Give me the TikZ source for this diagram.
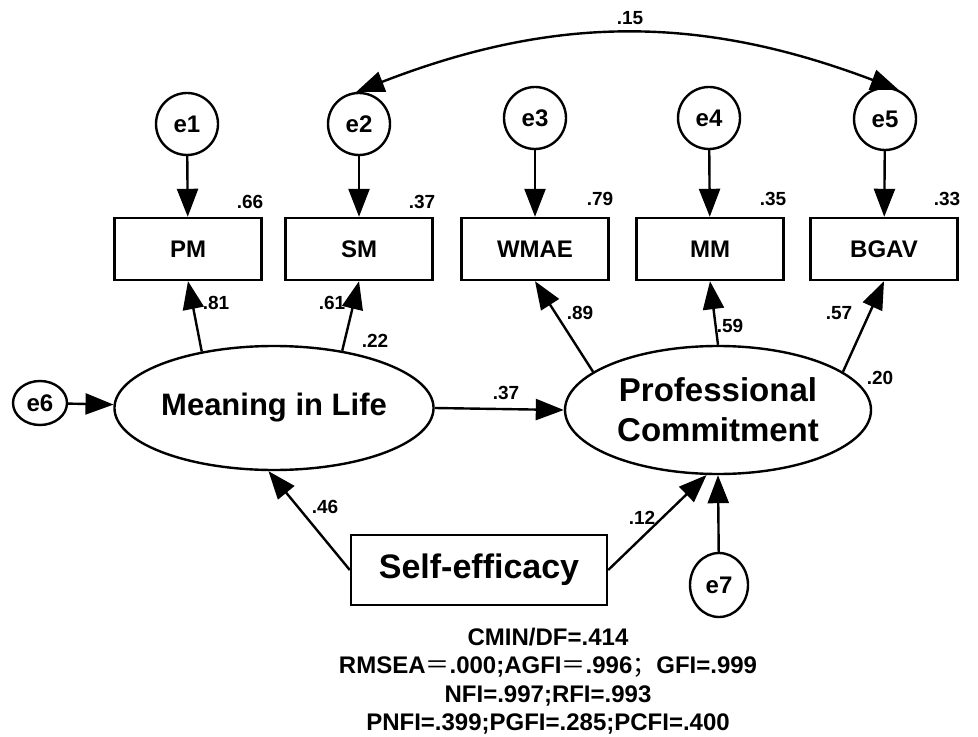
\documentclass[tikz,border=0pt]{standalone}
\usepackage{amsmath, amssymb}
\usepackage{xcolor}
\usepackage{fontspec}
\setmainfont{Liberation Sans}
\newfontfamily\cjk{Noto Sans CJK SC}
\usepackage{tikz}
\usetikzlibrary{arrows.meta, shapes.geometric}

\tikzset{
  err/.style={draw, circle, line width=1.2pt, minimum size=31pt, inner sep=0pt, font=\fontsize{12}{14}\selectfont\bfseries},
  errsmall/.style={draw, ellipse, line width=1.2pt, inner sep=0pt, font=\fontsize{12}{14}\selectfont\bfseries},
  obs/.style={draw, rectangle, line width=1.2pt, minimum width=73.5pt, minimum height=31pt, inner sep=0pt, font=\fontsize{12}{14}\selectfont\bfseries},
  lat/.style={draw, ellipse, line width=1.2pt, inner sep=0pt},
  coef/.style={inner sep=0pt, font=\fontsize{9.5}{11}\selectfont\bfseries},
  fit/.style={inner sep=0pt, anchor=base, font=\fontsize{12}{14}\selectfont\bfseries},
  arr/.style={line width=1.2pt, -{Triangle[length=14pt, width=10.5pt]}},
  dbl/.style={line width=1.2pt, {Triangle[length=14pt, width=10.5pt]}-{Triangle[length=14pt, width=10.5pt]}}
}

\begin{document}
\begin{tikzpicture}[x=0.5pt, y=-0.5pt]
\useasboundingbox (0,0) rectangle (978,737);

\node[err] (e1) at (187,124) {e1};
\node[err] (e2) at (359,124) {e2};
\node[err] (e3) at (535,118) {e3};
\node[err] (e4) at (709,118) {e4};
\node[err] (e5) at (885,119) {e5};
\node[errsmall, minimum width=27pt, minimum height=22pt] (e6) at (40,403) {e6};
\node[errsmall, minimum width=29pt, minimum height=32pt] (e7) at (719,585) {e7};

\node[obs] (PM) at (188,249) {PM};
\node[obs] (SM) at (359,249) {SM};
\node[obs] (WMAE) at (535,249) {WMAE};
\node[obs] (MM) at (710,249) {MM};
\node[obs] (BGAV) at (884,249) {BGAV};

\node[lat, minimum width=144pt, minimum height=62pt, font=\fontsize{15.5}{18}\selectfont\bfseries] (ML) at (274,408) {Meaning in Life};
\node[lat, minimum width=153pt, minimum height=64pt, align=center, font=\fontsize{16.5}{20}\selectfont\bfseries] (PC) at (718,410) {Professional\\Commitment};
\node[draw, rectangle, line width=1.2pt, minimum width=128pt, minimum height=35pt, font=\fontsize{17}{20}\selectfont\bfseries] (SE) at (479,570) {Self-efficacy};

\draw[arr] (e1) -- (PM);
\draw[arr] (e2) -- (SM);
\draw[arr] (e3) -- (WMAE);
\draw[arr] (e4) -- (MM);
\draw[arr] (e5) -- (BGAV);
\draw[dbl] (e2.95) to[bend left=21] (e5.65);

\draw[arr] (ML.142) -- (PM.south);
\draw[arr] (ML.40) -- (SM.south);
\draw[arr] (PC.163) -- (WMAE.south);
\draw[arr] (PC.north) -- (MM.south);
\draw[arr] (PC.17) -- (BGAV.south);

\draw[arr] (e6) -- (ML);
\draw[arr] (ML.east) -- (PC.west);
\draw[arr] (SE.west) -- (ML.265);
\draw[arr] (SE.east) -- (PC.260);
\draw[arr] (e7) -- (PC.south);

\node[coef] (r1) at (250,202) {.66};
\node[coef] (r2) at (422,202) {.37};
\node[coef] (r3) at (600,199) {.79};
\node[coef] (r4) at (773,199) {.35};
\node[coef] (r5) at (947,199) {.33};

\node[coef] (c15) at (630,18) {.15};
\node[coef] (c81) at (216,303) {.81};
\node[coef] (c61) at (332,303) {.61};
\node[coef] (c22) at (375,341) {.22};
\node[coef] (c89) at (580,313) {.89};
\node[coef] (c59) at (730,326) {.59};
\node[coef] (c57) at (839,313) {.57};
\node[coef] (c20) at (880,378) {.20};
\node[coef] (c37) at (506,393) {.37};
\node[coef] (c46) at (325,507) {.46};
\node[coef] (c12) at (642,518) {.12};

\node[fit] (st1) at (548,645) {CMIN/DF=.414};
\node[fit] (st2) at (548,673) {RMSEA{\normalfont\cjk ＝}.000;AGFI{\normalfont\cjk ＝}.996{\normalfont\cjk ；}GFI=.999};
\node[fit] (st3) at (548,702) {NFI=.997;RFI=.993};
\node[fit] (st4) at (548,730) {PNFI=.399;PGFI=.285;PCFI=.400};
\end{tikzpicture}
\end{document}
